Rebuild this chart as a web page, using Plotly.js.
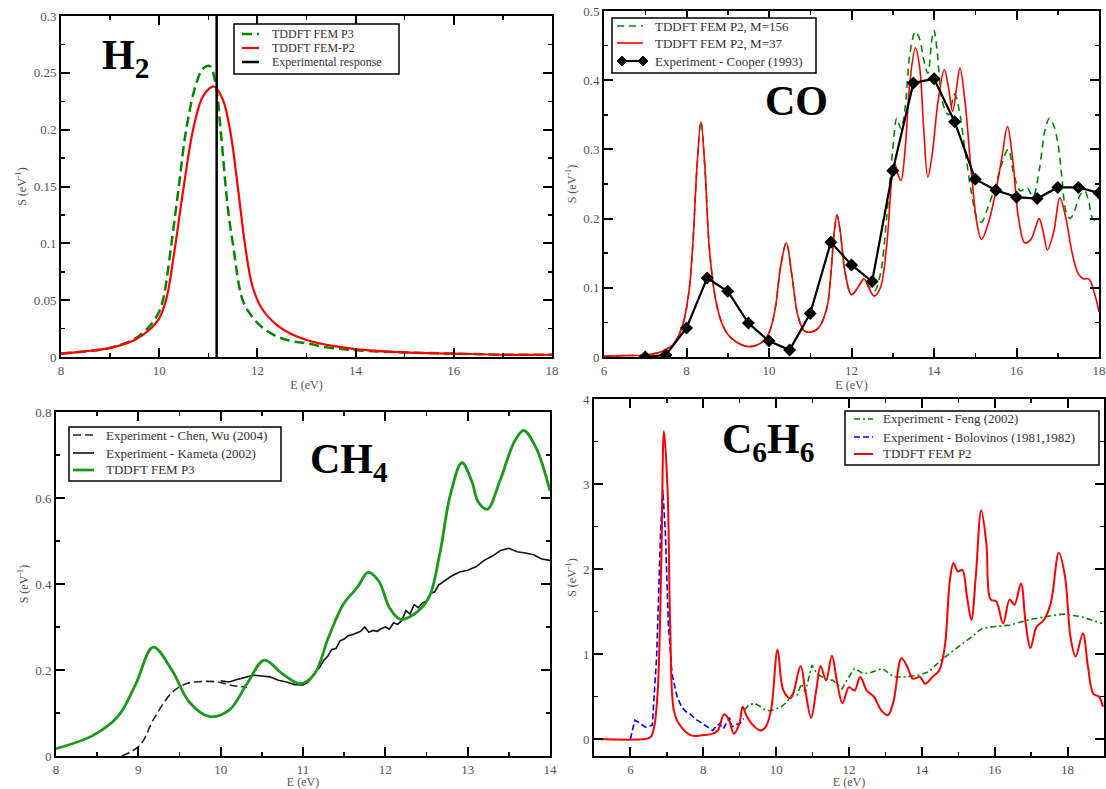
<!DOCTYPE html>
<html>
<head>
<meta charset="utf-8">
<script src="https://cdn.plot.ly/plotly-3.0.1.min.js"></script>
<style>html,body{margin:0;padding:0;background:#fff}#chart{width:1106px;height:789px}</style>
</head>
<body>
<div id="chart"></div>
<script>
// ---------- H2 ----------
const h2_p3_E = [8, 8.5, 9, 9.5, 9.8, 10, 10.1, 10.25, 10.4, 10.55, 10.75, 10.9, 11.03, 11.15, 11.25, 11.4, 11.5, 11.7, 11.9, 12.1, 12.4, 12.7, 13, 13.5, 14, 15, 16, 17, 18];
const h2_p3_S = [0.003, 0.005, 0.008, 0.016, 0.027, 0.040, 0.055, 0.100, 0.150, 0.200, 0.240, 0.254, 0.256, 0.240, 0.200, 0.130, 0.100, 0.050, 0.035, 0.026, 0.018, 0.014, 0.012, 0.008, 0.006, 0.004, 0.003, 0.002, 0.002];
const h2_p2_E = [8, 8.5, 9, 9.5, 9.8, 10, 10.15, 10.3, 10.5, 10.7, 10.9, 11.12, 11.3, 11.45, 11.6, 11.75, 11.9, 12.1, 12.4, 12.7, 13, 13.5, 14, 15, 16, 17, 18];
const h2_p2_S = [0.003, 0.005, 0.008, 0.015, 0.024, 0.034, 0.052, 0.090, 0.150, 0.202, 0.230, 0.238, 0.226, 0.198, 0.150, 0.098, 0.062, 0.042, 0.028, 0.020, 0.015, 0.010, 0.007, 0.004, 0.003, 0.002, 0.002];
const h2_exp_E = [11.17, 11.17];
const h2_exp_S = [0, 0.3];
const h2_names = ['TDDFT FEM P3', 'TDDFT FEM-P2', 'Experimental response'];

// ---------- CO ----------
const co_m37_E = [6.0, 6.5, 7.0, 7.4, 7.7, 7.9, 8.05, 8.15, 8.25, 8.35, 8.45, 8.55, 8.7, 8.85, 9.0, 9.2, 9.5, 9.8, 10.0, 10.15, 10.28, 10.42, 10.55, 10.7, 10.85, 11.0, 11.2, 11.4, 11.5, 11.58, 11.65, 11.73, 11.85, 12.0, 12.15, 12.3, 12.42, 12.55, 12.7, 12.85, 13.0, 13.05, 13.12, 13.2, 13.3, 13.42, 13.55, 13.65, 13.75, 13.85, 13.95, 14.1, 14.25, 14.35, 14.45, 14.55, 14.63, 14.75, 14.9, 15.05, 15.15, 15.3, 15.5, 15.65, 15.78, 15.9, 16.05, 16.2, 16.35, 16.45, 16.55, 16.65, 16.75, 16.9, 17.05, 17.2, 17.35, 17.5, 17.62, 17.75, 17.9, 18.0];
const co_m37_S = [0.001, 0.002, 0.003, 0.008, 0.02, 0.045, 0.09, 0.16, 0.27, 0.34, 0.27, 0.16, 0.085, 0.05, 0.033, 0.022, 0.015, 0.02, 0.035, 0.07, 0.13, 0.165, 0.12, 0.06, 0.038, 0.036, 0.042, 0.07, 0.12, 0.18, 0.205, 0.18, 0.12, 0.09, 0.1, 0.113, 0.1, 0.088, 0.1, 0.16, 0.27, 0.28, 0.265, 0.255, 0.3, 0.4, 0.447, 0.42, 0.33, 0.26, 0.29, 0.37, 0.415, 0.39, 0.355, 0.39, 0.418, 0.37, 0.27, 0.19, 0.17, 0.19, 0.24, 0.29, 0.333, 0.29, 0.2, 0.165, 0.17, 0.185, 0.2, 0.18, 0.155, 0.18, 0.23, 0.2, 0.15, 0.12, 0.113, 0.113, 0.09, 0.065];
const co_m156_E = [6.0, 6.5, 7.0, 7.4, 7.7, 7.9, 8.05, 8.15, 8.25, 8.35, 8.45, 8.55, 8.7, 8.85, 9.0, 9.2, 9.5, 9.8, 10.0, 10.15, 10.28, 10.42, 10.55, 10.7, 10.85, 11.0, 11.2, 11.4, 11.5, 11.58, 11.65, 11.73, 11.85, 12.0, 12.15, 12.3, 12.42, 12.55, 12.7, 12.85, 13.0, 13.1, 13.2, 13.3, 13.42, 13.55, 13.65, 13.75, 13.85, 13.95, 14.0, 14.08, 14.2, 14.35, 14.5, 14.6, 14.75, 14.9, 15.05, 15.15, 15.3, 15.5, 15.65, 15.8, 15.95, 16.1, 16.25, 16.4, 16.55, 16.7, 16.8, 16.9, 17.0, 17.1, 17.2, 17.3, 17.4, 17.55, 17.65, 17.75, 17.85, 18.0];
const co_m156_S = [0.001, 0.002, 0.003, 0.008, 0.02, 0.045, 0.09, 0.16, 0.27, 0.34, 0.27, 0.16, 0.085, 0.05, 0.033, 0.022, 0.015, 0.02, 0.035, 0.07, 0.13, 0.165, 0.12, 0.06, 0.038, 0.036, 0.042, 0.07, 0.12, 0.18, 0.205, 0.18, 0.12, 0.09, 0.1, 0.112, 0.102, 0.095, 0.12, 0.2, 0.3, 0.345, 0.33, 0.36, 0.44, 0.47, 0.46, 0.43, 0.41, 0.46, 0.472, 0.44, 0.37, 0.35, 0.38, 0.36, 0.3, 0.24, 0.2, 0.195, 0.215, 0.25, 0.28, 0.3, 0.26, 0.24, 0.245, 0.232, 0.27, 0.33, 0.345, 0.335, 0.31, 0.26, 0.21, 0.2, 0.21, 0.235, 0.24, 0.225, 0.2, 0.195];
const co_exp_E = [7.0, 7.5, 8.0, 8.5, 9.0, 9.5, 10.0, 10.5, 11.0, 11.5, 12.0, 12.5, 13.0, 13.5, 14.0, 14.5, 15.0, 15.5, 16.0, 16.5, 17.0, 17.5, 18.0];
const co_exp_S = [0.0, 0.003, 0.042, 0.114, 0.095, 0.049, 0.023, 0.010, 0.063, 0.166, 0.133, 0.109, 0.269, 0.396, 0.402, 0.340, 0.257, 0.241, 0.231, 0.229, 0.245, 0.245, 0.237];
const co_names = ['TDDFT FEM P2, M=156', 'TDDFT FEM P2, M=37', 'Experiment - Cooper (1993)'];

// ---------- CH4 ----------
const ch4_p3_E = [8.0, 8.45, 8.76, 8.97, 9.18, 9.41, 9.62, 9.86, 10.10, 10.32, 10.53, 10.75, 10.97, 11.14, 11.31, 11.49, 11.66, 11.79, 11.92, 12.05, 12.18, 12.35, 12.53, 12.66, 12.79, 12.93, 13.05, 13.13, 13.24, 13.39, 13.57, 13.68, 13.83, 14.0];
const ch4_p3_S = [0.017, 0.048, 0.094, 0.168, 0.253, 0.199, 0.125, 0.092, 0.106, 0.168, 0.223, 0.191, 0.168, 0.191, 0.276, 0.353, 0.392, 0.427, 0.407, 0.345, 0.318, 0.33, 0.369, 0.469, 0.608, 0.682, 0.639, 0.590, 0.574, 0.639, 0.732, 0.757, 0.717, 0.616];
const ch4_chen_E = [8.8, 9.02, 9.19, 9.41, 9.58, 9.75, 9.97, 10.14, 10.32];
const ch4_chen_S = [0.0, 0.025, 0.087, 0.148, 0.168, 0.173, 0.172, 0.164, 0.160];
const ch4_kam_E = [10.0, 10.1, 10.2, 10.3, 10.4, 10.5, 10.6, 10.7, 10.8, 10.9, 11.0, 11.05, 11.1, 11.15, 11.2, 11.25, 11.3, 11.35, 11.4, 11.45, 11.5, 11.55, 11.6, 11.65, 11.7, 11.75, 11.8, 11.85, 11.9, 11.95, 12.0, 12.05, 12.1, 12.15, 12.2, 12.25, 12.3, 12.35, 12.4, 12.45, 12.5, 12.55, 12.6, 12.65, 12.7, 12.75, 12.8, 12.9, 13.0, 13.1, 13.2, 13.3, 13.4, 13.5, 13.6, 13.7, 13.8, 13.9, 14.0];
const ch4_kam_S = [0.175, 0.172, 0.178, 0.183, 0.188, 0.186, 0.184, 0.176, 0.172, 0.166, 0.165, 0.170, 0.180, 0.196, 0.205, 0.222, 0.232, 0.248, 0.250, 0.268, 0.272, 0.280, 0.282, 0.286, 0.290, 0.300, 0.288, 0.292, 0.290, 0.296, 0.300, 0.295, 0.310, 0.306, 0.315, 0.338, 0.330, 0.352, 0.345, 0.356, 0.360, 0.378, 0.382, 0.398, 0.405, 0.410, 0.418, 0.428, 0.432, 0.440, 0.455, 0.465, 0.478, 0.483, 0.475, 0.472, 0.468, 0.458, 0.455];
const ch4_names = ['Experiment - Chen, Wu (2004)', 'Experiment - Kameta (2002)', 'TDDFT FEM P3'];

// ---------- C6H6 ----------
const bz_p2_E = [5.05, 6.41, 6.55, 6.65, 6.75, 6.85, 6.92, 7.02, 7.09, 7.19, 7.33, 7.67, 7.96, 8.26, 8.40, 8.57, 8.69, 8.84, 8.99, 9.08, 9.18, 9.37, 9.57, 9.71, 9.86, 10.04, 10.20, 10.40, 10.67, 10.80, 10.96, 11.10, 11.22, 11.37, 11.53, 11.68, 11.82, 12.0, 12.15, 12.31, 12.49, 12.68, 12.88, 13.07, 13.22, 13.44, 13.60, 13.75, 13.95, 14.09, 14.29, 14.48, 14.63, 14.77, 14.87, 14.99, 15.11, 15.24, 15.36, 15.48, 15.63, 15.77, 15.89, 16.04, 16.23, 16.41, 16.54, 16.72, 16.85, 16.98, 17.15, 17.35, 17.54, 17.76, 17.93, 18.08, 18.22, 18.42, 18.56, 18.71, 18.86, 18.97];
const bz_p2_S = [0, 0, 0.02, 0.14, 0.57, 2.15, 3.62, 2.93, 1.36, 0.34, 0.18, 0.043, 0.043, 0.063, 0.10, 0.29, 0.24, 0.063, 0.18, 0.38, 0.28, 0.16, 0.10, 0.14, 0.34, 1.05, 0.57, 0.48, 0.86, 0.57, 0.25, 0.57, 0.86, 0.69, 0.98, 0.65, 0.42, 0.61, 0.57, 0.73, 0.57, 0.5, 0.34, 0.28, 0.44, 0.95, 0.85, 0.71, 0.73, 0.65, 0.73, 0.81, 1.09, 1.87, 2.07, 1.97, 1.99, 1.67, 1.40, 1.91, 2.69, 2.30, 1.64, 1.62, 1.36, 1.64, 1.58, 1.83, 1.36, 1.07, 1.32, 1.40, 1.60, 2.19, 1.91, 1.20, 0.97, 1.24, 0.85, 0.53, 0.50, 0.38];
const bz_bol_E = [6.0, 6.12, 6.21, 6.31, 6.41, 6.50, 6.60, 6.72, 6.83, 6.89, 6.96, 7.04, 7.14, 7.28, 7.40, 7.53, 7.65, 7.77, 7.90, 8.06, 8.16, 8.26, 8.35, 8.45, 8.55, 8.65, 8.72, 8.79, 8.90, 8.99, 9.11];
const bz_bol_S = [0, 0.22, 0.20, 0.17, 0.14, 0.15, 0.16, 0.97, 2.46, 2.93, 2.42, 1.36, 0.77, 0.50, 0.38, 0.32, 0.29, 0.24, 0.20, 0.16, 0.13, 0.10, 0.15, 0.18, 0.12, 0.20, 0.25, 0.14, 0.17, 0.18, 0.24];
const bz_feng_E = [9.13, 9.25, 9.42, 9.55, 9.71, 9.85, 10.01, 10.15, 10.30, 10.40, 10.49, 10.58, 10.69, 10.80, 10.90, 10.98, 11.08, 11.18, 11.27, 11.40, 11.56, 11.70, 11.81, 11.95, 12.15, 12.35, 12.53, 12.72, 12.92, 13.07, 13.22, 13.51, 13.90, 14.19, 14.48, 14.77, 15.06, 15.36, 15.65, 15.94, 16.42, 16.91, 17.40, 17.88, 18.37, 18.95];
const bz_feng_S = [0.34, 0.40, 0.42, 0.38, 0.34, 0.33, 0.36, 0.38, 0.44, 0.50, 0.55, 0.52, 0.65, 0.55, 0.75, 0.87, 0.80, 0.75, 0.73, 0.70, 0.69, 0.64, 0.59, 0.70, 0.83, 0.78, 0.77, 0.80, 0.83, 0.78, 0.73, 0.73, 0.75, 0.79, 0.91, 1.01, 1.10, 1.20, 1.30, 1.32, 1.34, 1.40, 1.44, 1.47, 1.44, 1.36];
const bz_names = ['Experiment - Feng (2002)', 'Experiment - Bolovinos (1981,1982)', 'TDDFT FEM P2'];

const SERIF = 'Liberation Serif, DejaVu Serif, serif';
const RED = '#ff0000', GREEN = '#008800', BLUE = '#0000ff';

// line styles
const sH2p3 = {color: GREEN, width: 2.5, dash: '10px,5px'};
const sH2p2 = {color: RED, width: 2.2};
const sH2ex = {color: '#000', width: 2.5};
const sCO156 = {color: GREEN, width: 1.6, dash: '7px,5px'};
const sCO37 = {color: RED, width: 1.6};
const sCOex = {color: '#000', width: 2.2};
const sCHchen = {color: '#222', width: 1.6, dash: '8px,4px'};
const sCHkam = {color: '#111', width: 1.6};
const sCHp3 = {color: '#1a9a1a', width: 2.8};
const sBZfeng = {color: GREEN, width: 1.6, dash: '6px,3px,2px,3px'};
const sBZbol = {color: BLUE, width: 1.6, dash: '6px,3px'};
const sBZp2 = {color: RED, width: 2};

const sp = s => Object.assign({}, s, {shape: 'spline'});
const traces = [
  {x: h2_p3_E, y: h2_p3_S, xaxis: 'x', yaxis: 'y', mode: 'lines', name: h2_names[0], line: sp(sH2p3)},
  {x: h2_p2_E, y: h2_p2_S, xaxis: 'x', yaxis: 'y', mode: 'lines', name: h2_names[1], line: sp(sH2p2)},
  {x: h2_exp_E, y: h2_exp_S, xaxis: 'x', yaxis: 'y', mode: 'lines', name: h2_names[2], line: sH2ex},
  {x: co_m156_E, y: co_m156_S, xaxis: 'x2', yaxis: 'y2', mode: 'lines', name: co_names[0], line: sp(sCO156)},
  {x: co_m37_E, y: co_m37_S, xaxis: 'x2', yaxis: 'y2', mode: 'lines', name: co_names[1], line: sp(sCO37)},
  {x: co_exp_E, y: co_exp_S, xaxis: 'x2', yaxis: 'y2', mode: 'lines+markers', name: co_names[2], line: sCOex,
   marker: {symbol: 'diamond', size: 10, color: '#000'}},
  {x: ch4_chen_E, y: ch4_chen_S, xaxis: 'x3', yaxis: 'y3', mode: 'lines', name: ch4_names[0], line: sp(sCHchen)},
  {x: ch4_kam_E, y: ch4_kam_S, xaxis: 'x3', yaxis: 'y3', mode: 'lines', name: ch4_names[1], line: sCHkam},
  {x: ch4_p3_E, y: ch4_p3_S, xaxis: 'x3', yaxis: 'y3', mode: 'lines', name: ch4_names[2], line: sp(sCHp3)},
  {x: bz_feng_E, y: bz_feng_S, xaxis: 'x4', yaxis: 'y4', mode: 'lines', name: bz_names[0], line: sBZfeng},
  {x: bz_bol_E, y: bz_bol_S, xaxis: 'x4', yaxis: 'y4', mode: 'lines', name: bz_names[1], line: sBZbol},
  {x: bz_p2_E, y: bz_p2_S, xaxis: 'x4', yaxis: 'y4', mode: 'lines', name: bz_names[2], line: sp(sBZp2)}
];

function ax(domain, range, dtick, minor, anchor, title) {
  return {
    domain: domain, range: range, anchor: anchor, dtick: dtick, tick0: 0,
    showline: true, linecolor: '#000', linewidth: 2, mirror: 'ticks',
    ticks: 'inside', ticklen: 9, tickwidth: 2, tickcolor: '#000',
    minor: {dtick: minor, ticks: 'inside', ticklen: 4, tickwidth: 1.5, tickcolor: '#000', showgrid: false},
    showgrid: false, zeroline: false,
    tickfont: {family: SERIF, size: 13, color: '#555'},
    title: {text: title, font: {family: SERIF, size: 12, color: '#555'}, standoff: 4}
  };
}
const W = 1106, H = 789;
const fx = p => p / W, fy = p => 1 - p / H;

// hand-built legend boxes (pixel geometry of the reference legends)
const shapes = [], annotations = [];
function legendBox(box, rowsY, sx0, sx1, tx, names, styles, fontSize, markerRow) {
  shapes.push({type: 'rect', xref: 'paper', yref: 'paper', x0: fx(box[0]), x1: fx(box[1]), y0: fy(box[3]), y1: fy(box[2]),
               line: {color: '#000', width: 1.5}, fillcolor: '#fff', layer: 'above'});
  names.forEach((nm, i) => {
    shapes.push({type: 'line', xref: 'paper', yref: 'paper', x0: fx(sx0), x1: fx(sx1), y0: fy(rowsY[i]), y1: fy(rowsY[i]),
                 line: styles[i], layer: 'above'});
    annotations.push({xref: 'paper', yref: 'paper', x: fx(tx), y: fy(rowsY[i]), xanchor: 'left', yanchor: 'middle',
                      showarrow: false, text: nm, font: {family: SERIF, size: fontSize, color: '#333'}});
    if (markerRow === i) {
      [sx0 + 5, sx1].forEach(cx => {
        const r = 5, cy = rowsY[i];
        shapes.push({type: 'path', xref: 'paper', yref: 'paper', layer: 'above', fillcolor: '#000', line: {color: '#000', width: 1},
          path: `M ${fx(cx - r)} ${fy(cy)} L ${fx(cx)} ${fy(cy - r)} L ${fx(cx + r)} ${fy(cy)} L ${fx(cx)} ${fy(cy + r)} Z`});
      });
    }
  });
}
legendBox([234, 399, 24, 74], [34, 48, 62], 242, 259, 270, h2_names, [sH2p3, sH2p2, sH2ex], 12);
legendBox([612, 816, 18, 73], [26, 43, 61], 617, 643, 653, co_names, [sCO156, sCO37, sCOex], 13, 2);
legendBox([69, 281, 427, 481], [435, 453, 470], 73, 94, 104, ch4_names, [sCHchen, sCHkam, sCHp3], 13);
legendBox([845, 1099, 411, 465], [419, 437, 454], 854, 873, 881, bz_names, [sBZfeng, sBZbol, sBZp2], 13);

annotations.push(
  {xref: 'paper', yref: 'paper', x: fx(100), y: fy(30), xanchor: 'left', yanchor: 'top', showarrow: false,
   text: '<b>H<sub>2</sub></b>', font: {family: SERIF, size: 42, color: '#000'}},
  {xref: 'paper', yref: 'paper', x: fx(763), y: fy(76), xanchor: 'left', yanchor: 'top', showarrow: false,
   text: '<b>CO</b>', font: {family: SERIF, size: 42, color: '#000'}},
  {xref: 'paper', yref: 'paper', x: fx(308), y: fy(434), xanchor: 'left', yanchor: 'top', showarrow: false,
   text: '<b>CH<sub>4</sub></b>', font: {family: SERIF, size: 42, color: '#000'}},
  {xref: 'paper', yref: 'paper', x: fx(720), y: fy(414), xanchor: 'left', yanchor: 'top', showarrow: false,
   text: '<b>C<sub>6</sub>H<sub>6</sub></b>', font: {family: SERIF, size: 42, color: '#000'}}
);

const S_TITLE = 'S (eV<sup>-1</sup>)';
const layout = {
  width: W, height: H, margin: {l: 0, r: 0, t: 0, b: 0},
  paper_bgcolor: '#fff', plot_bgcolor: '#fff', showlegend: false,
  font: {family: SERIF},
  xaxis:  ax([fx(61), fx(552)], [8, 18], 2, 1, 'y', 'E (eV)'),
  yaxis:  ax([fy(357), fy(16)], [0, 0.3], 0.05, 0.025, 'x', S_TITLE),
  xaxis2: ax([fx(604), fx(1099)], [6, 18], 2, 1, 'y2', 'E (eV)'),
  yaxis2: ax([fy(357), fy(11)], [0, 0.5], 0.1, 0.05, 'x2', S_TITLE),
  xaxis3: ax([fx(56), fx(550)], [8, 14], 1, 0.5, 'y3', 'E (eV)'),
  yaxis3: ax([fy(756), fy(412)], [0, 0.8], 0.2, 0.1, 'x3', S_TITLE),
  xaxis4: ax([fx(594), fx(1104)], [5, 19], 2, 1, 'y4', 'E (eV)'),
  yaxis4: ax([fy(756), fy(399)], [-0.2, 4], 1, 0.5, 'x4', S_TITLE),
  shapes: shapes,
  annotations: annotations
};

Plotly.newPlot('chart', traces, layout, {displayModeBar: false, staticPlot: true});
</script>
</body>
</html>
